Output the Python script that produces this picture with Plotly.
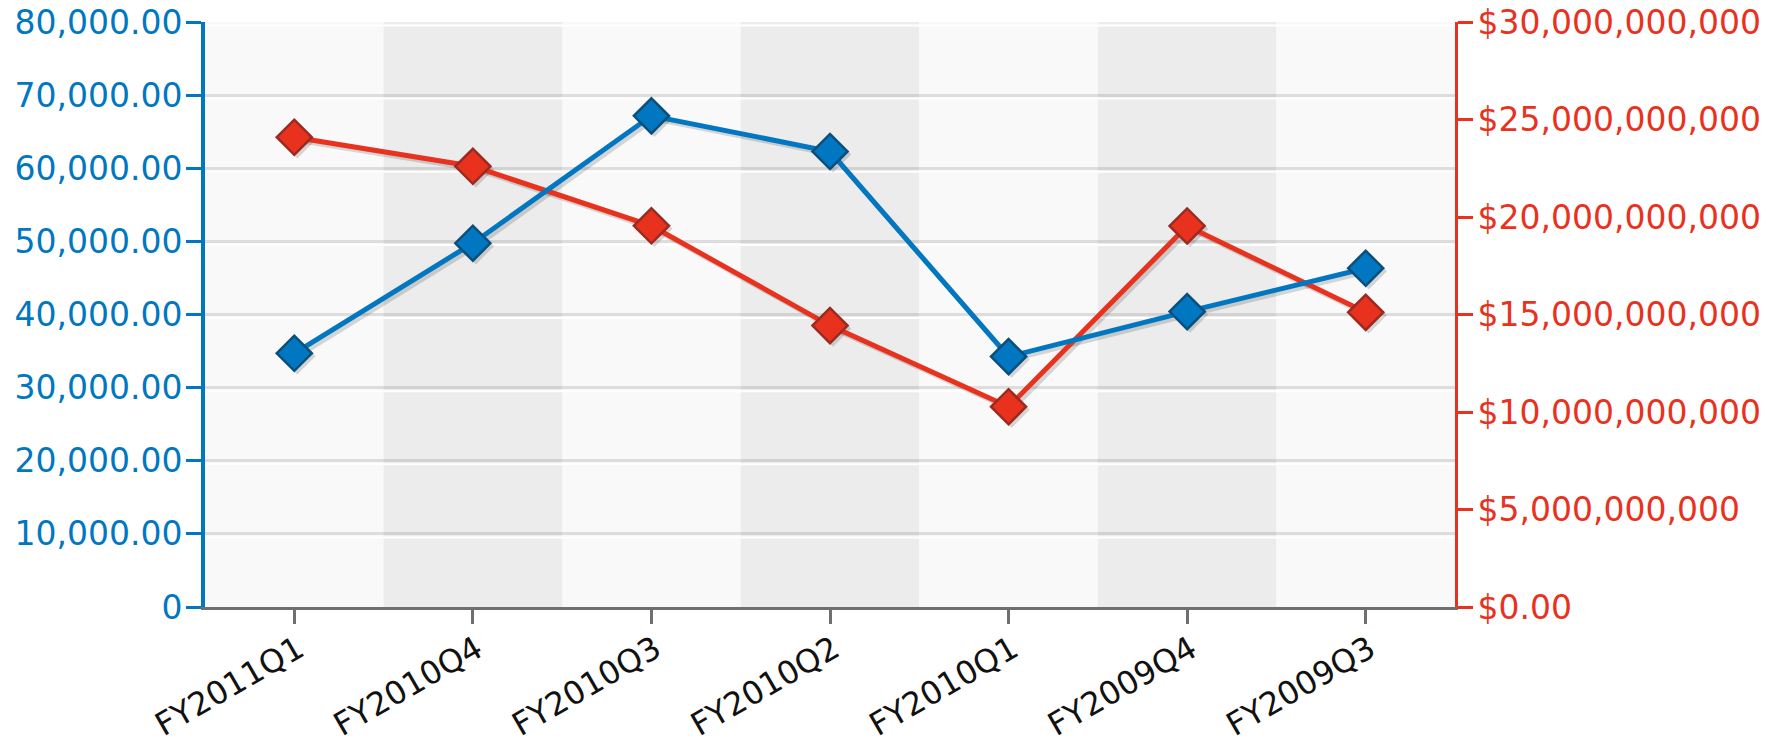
import plotly.graph_objects as go

categories = ["FY2011Q1", "FY2010Q4", "FY2010Q3", "FY2010Q2", "FY2010Q1", "FY2009Q4", "FY2009Q3"]
units = [34700, 49750, 67170, 62290, 34240, 40400, 46330]
revenue = [24.09e9, 22.60e9, 19.55e9, 14.43e9, 10.27e9, 19.54e9, 15.11e9]

left_tick_vals = [0, 10000, 20000, 30000, 40000, 50000, 60000, 70000, 80000]
left_tick_text = ["0", "10,000.00", "20,000.00", "30,000.00", "40,000.00",
                  "50,000.00", "60,000.00", "70,000.00", "80,000.00"]
right_tick_vals = [0, 5e9, 10e9, 15e9, 20e9, 25e9, 30e9]
right_tick_text = ["$0.00", "$5,000,000,000", "$10,000,000,000", "$15,000,000,000",
                   "$20,000,000,000", "$25,000,000,000", "$30,000,000,000"]

BLUE = "#0077c0"
RED = "#e8321e"
SHADOW = "rgba(0,0,0,0.15)"
FONT = "DejaVu Sans"

W, H = 1767, 744
ML, MR, MT, MB = 205, 312, 22, 137
plot_w = W - ML - MR
plot_h = H - MT - MB
n = len(categories)
shift_px = 3
dx = shift_px * n / plot_w
left_max, right_max = 80000, 30e9
dy_left = shift_px * left_max / plot_h
dy_right = shift_px * right_max / plot_h

fig = go.Figure()

# drop shadows: same data on hidden axes whose ranges are offset by a few pixels
fig.add_trace(go.Scatter(
    x=categories, y=units, xaxis="x", yaxis="y", mode="lines+markers",
    line=dict(color=SHADOW, width=5),
    marker=dict(symbol="diamond", size=28, color=SHADOW),
    showlegend=False, hoverinfo="skip"))
fig.add_trace(go.Scatter(
    x=categories, y=revenue, xaxis="x", yaxis="y2", mode="lines+markers",
    line=dict(color=SHADOW, width=5),
    marker=dict(symbol="diamond", size=28, color=SHADOW),
    showlegend=False, hoverinfo="skip"))

# visible series
fig.add_trace(go.Scatter(
    x=categories, y=revenue, xaxis="x2", yaxis="y3", mode="lines+markers",
    line=dict(color=RED, width=5),
    marker=dict(symbol="diamond", size=27, color=RED, line=dict(color="#9b2a20", width=2.5)),
    showlegend=False, hoverinfo="skip"))
fig.add_trace(go.Scatter(
    x=categories, y=units, xaxis="x2", yaxis="y4", mode="lines+markers",
    line=dict(color=BLUE, width=5),
    marker=dict(symbol="diamond", size=27, color=BLUE, line=dict(color="#0b4f7c", width=2.5)),
    showlegend=False, hoverinfo="skip"))

shapes = []
for i, _ in enumerate(categories):
    shapes.append(dict(type="rect", xref="x2", yref="paper", x0=i - 0.5, x1=i + 0.5,
                       y0=0, y1=1, layer="below", line=dict(width=0),
                       fillcolor="#f9f9f9" if i % 2 == 0 else "#ececec"))
for v in left_tick_vals[1:]:
    shapes.append(dict(type="line", xref="paper", yref="y4", x0=0, x1=1,
                       ysizemode="pixel", yanchor=v, y0=-3.5, y1=-3.5,
                       layer="between", line=dict(color="white", width=2)))

fig.update_layout(
    width=W, height=H,
    margin=dict(l=ML, r=MR, t=MT, b=MB, pad=0),
    paper_bgcolor="white", plot_bgcolor="#f9f9f9",
    shapes=shapes,
    xaxis=dict(type="category", range=[-0.5 - dx, n - 0.5 - dx], visible=False,
               automargin=False, showgrid=False, zeroline=False),
    yaxis=dict(range=[dy_left, left_max + dy_left], visible=False, automargin=False,
               showgrid=False, zeroline=False),
    yaxis2=dict(range=[dy_right, right_max + dy_right], overlaying="y", visible=False,
                automargin=False, showgrid=False, zeroline=False),
    xaxis2=dict(
        type="category", range=[-0.5, n - 0.5], overlaying="x", side="bottom",
        anchor="y", automargin=False,
        showgrid=False, showline=True, linecolor="#6f6f6f", linewidth=3,
        ticks="outside", ticklen=14, tickwidth=3, tickcolor="#6f6f6f",
        tickangle=-30, tickfont=dict(family=FONT, size=32, color="#111111"),
        ticklabelstandoff=-6, ticklabelshift=4,
        zeroline=False),
    yaxis3=dict(
        range=[0, right_max], tickvals=right_tick_vals, ticktext=right_tick_text,
        overlaying="y", side="right", anchor="x2", automargin=False, showgrid=False,
        showline=True, linecolor=RED, linewidth=3,
        ticks="outside", ticklen=15, tickwidth=3, tickcolor=RED,
        tickfont=dict(family=FONT, size=33, color=RED),
        ticklabelstandoff=-2, zeroline=False),
    yaxis4=dict(
        range=[0, left_max], tickvals=left_tick_vals, ticktext=left_tick_text,
        overlaying="y", side="left", anchor="x2", automargin=False,
        showgrid=True, gridcolor="rgba(0,0,0,0.11)", gridwidth=3,
        showline=True, linecolor=BLUE, linewidth=4,
        ticks="outside", ticklen=15, tickwidth=3, tickcolor=BLUE,
        tickfont=dict(family=FONT, size=33, color=BLUE),
        ticklabelstandoff=-3, zeroline=False),
)

fig.write_html("out.html", config={"displayModeBar": False},
               post_script="document.body.style.margin='0';")
